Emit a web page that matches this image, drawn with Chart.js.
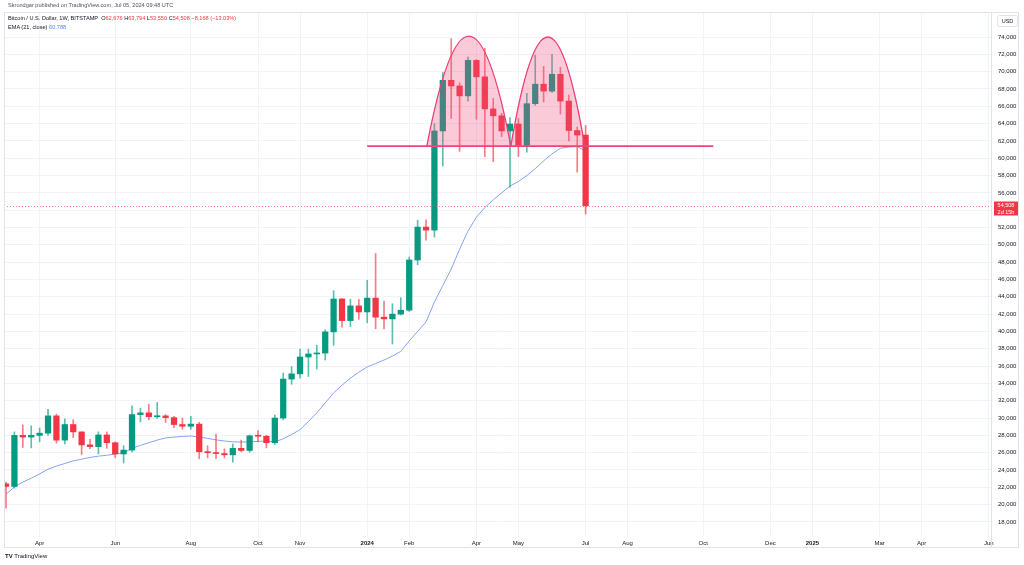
<!DOCTYPE html>
<html lang="en">
<head>
    <meta charset="UTF-8">
    <title>Bitcoin / U.S. Dollar, 1W, BITSTAMP</title>
    <style>
        body {
            margin: 0;
            padding: 0;
            background-color: #ffffff;
            font-family: "Liberation Sans", Arial, sans-serif;
        }

        .wrap {
            position: relative;
            width: 1024px;
            height: 565px;
            overflow: hidden;
        }

        canvas {
            position: absolute;
            left: 0;
            top: 0;
        }

        .txt {
            position: absolute;
            white-space: nowrap;
            font-size: 5.6px;
            line-height: 7px;
            color: #131722;
        }

        .red { color: #f23645; }
        .blue { color: #5b7ff0; }
    </style>
</head>
<body>

<div class="wrap">
    <canvas id="btcChart" width="1024" height="565"></canvas>

    <div class="txt" style="left:8px; top:2px; color:#50535e;">Skrondgar published on TradingView.com, Jul 05, 2024 09:48 UTC</div>
    <div class="txt" style="left:8px; top:15px;">Bitcoin / U.S. Dollar, 1W, BITSTAMP&nbsp; O<span class="red">62,676</span> H<span class="red">63,794</span> L<span class="red">53,550</span> C<span class="red">54,508</span> <span class="red">&minus;8,168 (&minus;13.03%)</span></div>
    <div class="txt" style="left:8px; top:24px;">EMA (21, close) <span class="blue">60,788</span></div>
    <div class="txt" style="left:5px; top:553px; font-size:6px; color:#131722;"><b>TV</b> TradingView</div>
</div>

<script src="https://cdn.jsdelivr.net/npm/chart.js"></script>
<script>
    // weekly candles, first week starts Mon 2023-03-06
    const weekStart = '2023-03-06';

    const openP = [22400, 22100, 28000, 27800, 28000, 28250, 30250, 27450, 29250, 28400,
                   26900, 26700, 28050, 27150, 25850, 26300, 30400, 30600, 30150, 30250,
                   30050, 29250, 29050, 29300, 26100, 26000, 25900, 25750, 26500, 26250,
                   27950, 27900, 27150, 30000, 34500, 35100, 37050, 37400, 37500, 39950,
                   43750, 41250, 42950, 42250, 43850, 41650, 41450, 42000, 42450, 48250,
                   52050, 51700, 63150, 69000, 68350, 67200, 71300, 69400, 65700, 64900,
                   63150, 63950, 61500, 66300, 68550, 67750, 69700, 66600, 63200, 62676];

    const highP = [22600, 28400, 29200, 29100, 28850, 31000, 30450, 29900, 29800, 28400,
                   27550, 28400, 28400, 27250, 26800, 31400, 31150, 31600, 31800, 30400,
                   30200, 30000, 30200, 29500, 26800, 28150, 26450, 27000, 27450, 28050,
                   28550, 28000, 30350, 35200, 35950, 37950, 37950, 38400, 40200, 44700,
                   43800, 43700, 43700, 45900, 49000, 43500, 43200, 43900, 48600, 52850,
                   52900, 64000, 69900, 73800, 68700, 71700, 71400, 72700, 66900, 65200,
                   64700, 64600, 67500, 71900, 70600, 72000, 70500, 67300, 63600, 63794];

    const lowP = [19600, 21900, 26600, 26550, 27250, 28000, 27100, 27000, 27750, 25800,
                  26450, 25850, 26500, 25400, 24800, 26100, 29550, 29800, 29950, 29500,
                  28900, 28700, 28700, 25300, 25400, 25300, 25400, 24900, 26100, 26050,
                  27250, 26550, 26950, 29800, 33900, 34600, 34800, 35650, 36700, 38400,
                  40500, 40550, 41400, 41000, 40300, 40300, 38550, 41900, 42300, 47700,
                  50550, 50900, 59100, 64600, 60800, 66600, 64500, 60200, 59600, 62500,
                  56650, 60200, 60700, 66100, 66500, 67600, 65100, 62000, 58400, 53550];

    const closeP = [22100, 28000, 27800, 28000, 28250, 30250, 27450, 29250, 28400, 26900,
                    26700, 28050, 27150, 25850, 26300, 30400, 30600, 30150, 30250, 30050,
                    29250, 29050, 29300, 26100, 26000, 25900, 25750, 26500, 26250, 27950,
                    27900, 27150, 30000, 34500, 35100, 37050, 37400, 37500, 39950, 43750,
                    41250, 42950, 42250, 43850, 41650, 41450, 42000, 42450, 48250, 52050,
                    51700, 63150, 69000, 68350, 67200, 71300, 69400, 65700, 64900, 63150,
                    63950, 61500, 66300, 68550, 67750, 69700, 66600, 63200, 62676, 54508];

    const ema21 = [21200, 22050, 22600, 23050, 23550, 24100, 24450, 24750, 25050, 25250,
                   25450, 25600, 25700, 25850, 26000, 26500, 26850, 27150, 27450, 27700,
                   27800, 27880, 27930, 27800, 27650, 27480, 27350, 27250, 27230, 27240,
                   27300, 27350, 27260, 27600, 28100, 28650, 29600, 30600, 31750, 32900,
                   33800, 34600, 35300, 35900, 36300, 36700, 37150, 37700, 38900, 40000,
                   41100, 43400, 45300, 47200, 49500, 51600, 53200, 54300, 55200, 56000,
                   56800, 57300, 58000, 58800, 59700, 60500, 61150, 61300, 61350, 60790];

    const timeTickDates = ['2023-04-03', '2023-06-05', '2023-08-07', '2023-10-02', '2023-11-06',
                           '2024-01-01', '2024-02-05', '2024-04-01', '2024-05-06', '2024-07-01',
                           '2024-08-05', '2024-10-07', '2024-12-02', '2025-01-06', '2025-03-03',
                           '2025-04-07', '2025-06-02'];
    const timeTickLabels = ['Apr', 'Jun', 'Aug', 'Oct', 'Nov', '2024', 'Feb', 'Apr', 'May', 'Jul',
                            'Aug', 'Oct', 'Dec', '2025', 'Mar', 'Apr', 'Jun'];

    const priceTicks = [18000, 20000, 22000, 24000, 26000, 28000, 30000, 32000, 34000, 36000,
                        38000, 40000, 42000, 44000, 46000, 48000, 50000, 52000, 54000, 56000,
                        58000, 60000, 62000, 64000, 66000, 68000, 70000, 72000, 74000];

    const lastPrice = 54508;
    const countdown = '2d 15h';

    // drawings (week index, price)
    const necklinePrice = 61400;
    const necklineWeeks = [43, 84.2];
    const arcWeeks = [[50.1, 60.1], [60.1, 68.9]];
    const arcTops = [74100, 74000];

    const UP = '#089981';
    const DOWN = '#f23645';

    function weekIndex(d) {
        return Math.round((Date.parse(d) - Date.parse(weekStart)) / 604800000);
    }
    const tickIdx = timeTickDates.map(weekIndex);
    const idx = openP.map((_, i) => i);
    const isUp = idx.map(i => closeP[i] >= openP[i]);

    const overlay = {
        id: 'overlay',
        afterDatasetsDraw(chart) {
            const { ctx, chartArea: a, scales: { x, y } } = chart;
            ctx.save();
            ctx.beginPath();
            ctx.rect(a.left, a.top, a.right - a.left, a.bottom - a.top);
            ctx.clip();

            // last price line
            const py = Math.round(y.getPixelForValue(lastPrice)) + 0.5;
            ctx.setLineDash([1, 2]);
            ctx.strokeStyle = 'rgba(242,54,69,0.6)';
            ctx.lineWidth = 1;
            ctx.beginPath();
            ctx.moveTo(a.left, py);
            ctx.lineTo(a.right, py);
            ctx.stroke();
            ctx.setLineDash([]);

            // double top arcs
            const yb = y.getPixelForValue(necklinePrice);
            arcWeeks.forEach(([s, e], k) => {
                const x0 = x.getPixelForValue(s);
                const x1 = x.getPixelForValue(e);
                const yt = y.getPixelForValue(arcTops[k]);
                ctx.beginPath();
                ctx.moveTo(x0, yb);
                ctx.quadraticCurveTo((x0 + x1) / 2, 2 * yt - yb, x1, yb);
                ctx.closePath();
                ctx.fillStyle = 'rgba(242,80,128,0.3)';
                ctx.fill();
                ctx.beginPath();
                ctx.moveTo(x0, yb);
                ctx.quadraticCurveTo((x0 + x1) / 2, 2 * yt - yb, x1, yb);
                ctx.strokeStyle = '#ec3f77';
                ctx.lineWidth = 1.3;
                ctx.stroke();
            });

            // neckline
            ctx.beginPath();
            ctx.moveTo(x.getPixelForValue(necklineWeeks[0]), yb);
            ctx.lineTo(x.getPixelForValue(necklineWeeks[1]), yb);
            ctx.strokeStyle = '#f2427c';
            ctx.lineWidth = 1.6;
            ctx.stroke();
            ctx.restore();

            // frame and price-axis separator
            ctx.save();
            ctx.strokeStyle = '#e0e3eb';
            ctx.lineWidth = 1;
            ctx.strokeRect(4.5, 12.5, 1014, 535);
            ctx.beginPath();
            ctx.moveTo(Math.round(a.right) + 0.5, 12.5);
            ctx.lineTo(Math.round(a.right) + 0.5, 547.5);
            ctx.stroke();

            // price label
            ctx.fillStyle = DOWN;
            ctx.fillRect(a.right + 3, py - 5, 24, 14);
            ctx.fillStyle = '#ffffff';
            ctx.font = '5.5px "Liberation Sans", Arial, sans-serif';
            ctx.textAlign = 'center';
            ctx.textBaseline = 'middle';
            ctx.fillText(lastPrice.toLocaleString('en-US'), a.right + 15, py - 1);
            ctx.fillText(countdown, a.right + 15, py + 5.5);

            // USD box
            ctx.fillStyle = '#ffffff';
            ctx.strokeStyle = '#e0e3eb';
            ctx.beginPath();
            ctx.roundRect(997.5, 15.5, 20, 11, 2);
            ctx.fill();
            ctx.stroke();
            ctx.fillStyle = '#131722';
            ctx.fillText('USD', 1007.5, 21);
            ctx.restore();
        }
    };

    const ctx = document.getElementById('btcChart').getContext('2d');
    new Chart(ctx, {
        type: 'bar',
        data: {
            datasets: [
                {
                    type: 'line',
                    label: 'EMA (21, close)',
                    data: idx.map(i => ({ x: i, y: ema21[i] })),
                    borderColor: '#86a2f7',
                    borderWidth: 1,
                    pointRadius: 0,
                    tension: 0,
                    order: 3
                },
                {
                    label: 'wick',
                    data: idx.map(i => ({ x: i, y: [lowP[i], highP[i]] })),
                    backgroundColor: idx.map(i => isUp[i] ? 'rgba(8,153,129,0.65)' : 'rgba(242,54,69,0.65)'),
                    barThickness: 1,
                    grouped: false,
                    order: 2
                },
                {
                    label: 'body',
                    data: idx.map(i => ({ x: i, y: [openP[i], closeP[i]] })),
                    backgroundColor: idx.map(i => isUp[i] ? UP : DOWN),
                    barThickness: 5.6,
                    minBarLength: 1,
                    grouped: false,
                    order: 1
                }
            ]
        },
        options: {
            responsive: false,
            animation: false,
            layout: { padding: { left: 4, top: 12, right: 5, bottom: 17 } },
            plugins: {
                legend: { display: false },
                tooltip: { enabled: false }
            },
            scales: {
                x: {
                    type: 'linear',
                    offset: false,
                    min: -0.24,
                    max: 117.26,
                    afterBuildTicks: s => { s.ticks = tickIdx.map(v => ({ value: v })); },
                    afterFit: s => { s.height = 11; },
                    grid: { color: '#f0f3fa', drawTicks: false, offset: false },
                    border: { display: false },
                    ticks: {
                        autoSkip: false,
                        maxRotation: 0,
                        padding: 3,
                        color: '#131722',
                        font: c => ({
                            size: 6,
                            family: '"Liberation Sans", Arial, sans-serif',
                            weight: /^\d{4}$/.test(timeTickLabels[c.index]) ? 'bold' : 'normal'
                        }),
                        callback: (v, i) => timeTickLabels[i]
                    }
                },
                y: {
                    position: 'right',
                    min: 16263,
                    max: 76887,
                    afterBuildTicks: s => { s.ticks = priceTicks.map(v => ({ value: v })); },
                    afterFit: s => { s.width = 28; },
                    grid: { color: '#f0f3fa', drawTicks: false },
                    border: { display: false },
                    ticks: {
                        padding: 7,
                        color: '#131722',
                        font: { size: 6, family: '"Liberation Sans", Arial, sans-serif' },
                        callback: v => v.toLocaleString('en-US')
                    }
                }
            }
        },
        plugins: [overlay]
    });
</script>

</body>
</html>
